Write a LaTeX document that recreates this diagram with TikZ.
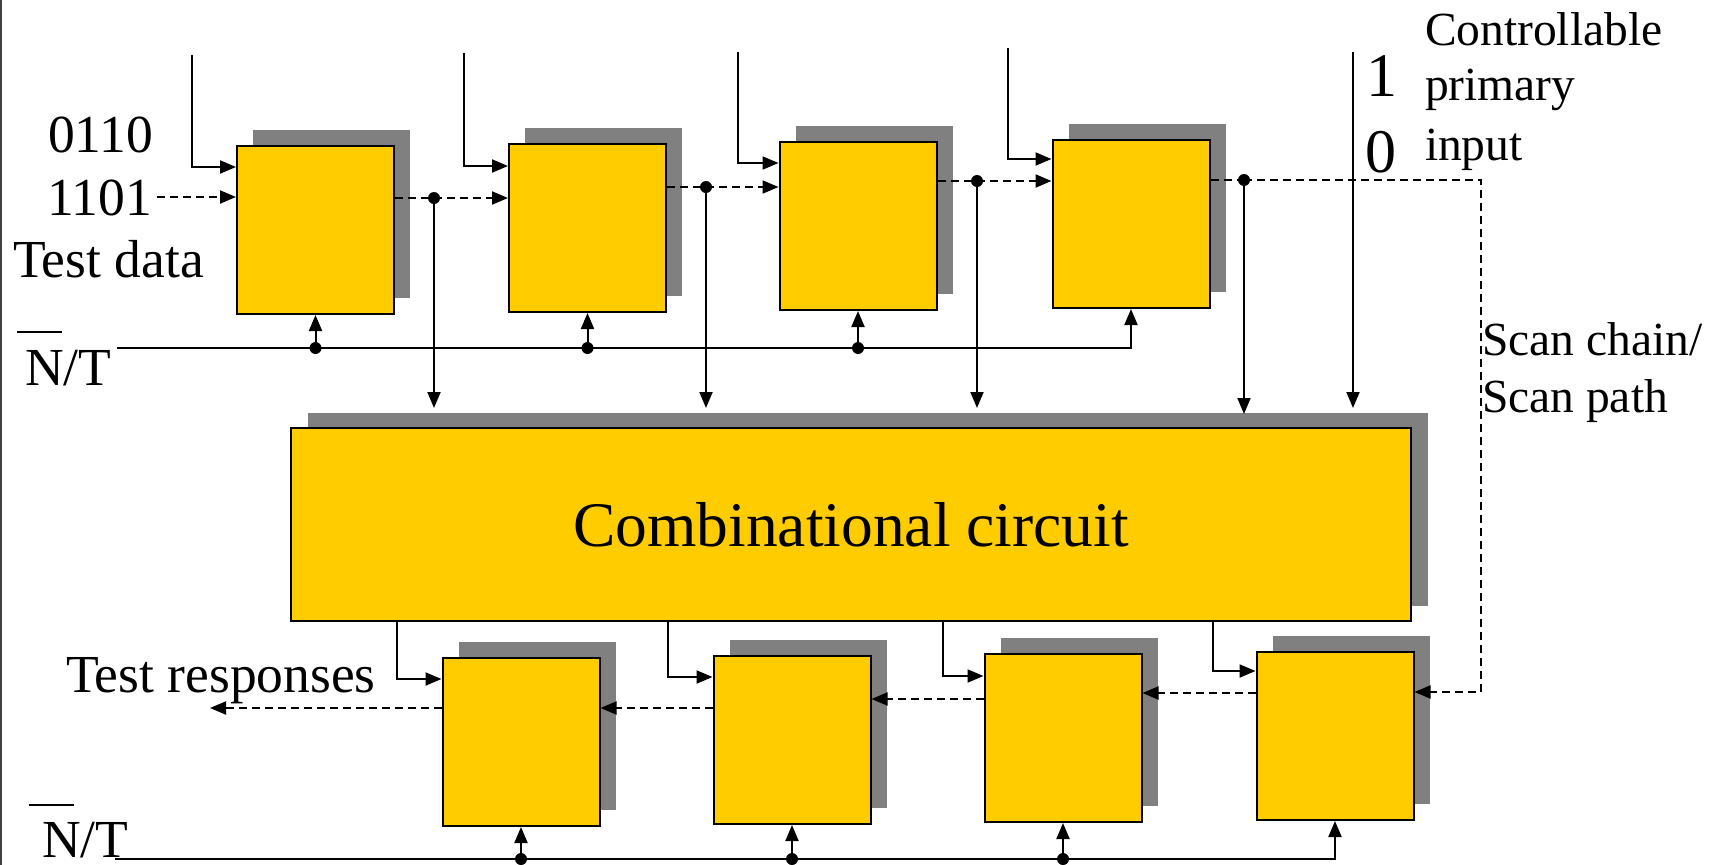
\documentclass[tikz,border=0pt]{standalone}
\usepackage{fontspec}
\setmainfont{Liberation Serif}
\usetikzlibrary{arrows.meta,shadows}
\definecolor{boxyellow}{HTML}{FFCC00}
\definecolor{shadowgray}{HTML}{808080}
\begin{document}
\begin{tikzpicture}[x=1pt,y=-1pt,line width=2pt,
  reg/.style={draw=black, fill=boxyellow, line width=2pt, minimum width=157pt, minimum height=168pt, inner sep=0pt,
    general shadow={fill=shadowgray, shadow xshift=16pt, shadow yshift=16pt}},
  circbox/.style={draw=black, fill=boxyellow, line width=2pt, minimum width=1120pt, minimum height=193pt, inner sep=0pt,
    general shadow={fill=shadowgray, shadow xshift=17pt, shadow yshift=15pt},
    font=\fontsize{63.5}{70}\selectfont},
  tx/.style={inner sep=0pt, anchor=base west, font=\fontsize{53.5}{60}\selectfont},
  rtx/.style={inner sep=0pt, anchor=base west, font=\fontsize{47.5}{54}\selectfont},
  bigtx/.style={inner sep=0pt, anchor=base west, font=\fontsize{62}{70}\selectfont},
  arr/.style={-{Triangle[length=16pt,width=13pt]}},
  dsh/.style={dash pattern=on 8pt off 5pt},
  dot/.style={fill=black}]
\useasboundingbox (0,0) rectangle (1717,865);
% frame edge
\draw[black!75] (1,0) -- (1,865);
% registers
\node[reg] (T1) at (315.5,230) {};
\node[reg] (T2) at (587.5,228) {};
\node[reg] (T3) at (858,226) {};
\node[reg] (T4) at (1131,224) {};
\node[circbox] (C) at (851,524.5) {Combinational circuit};
\node[reg] (B1) at (521,742) {};
\node[reg] (B2) at (792,740) {};
\node[reg] (B3) at (1063,738) {};
\node[reg] (B4) at (1335,736) {};
% texts
\node[tx] (t0110) at (47,152) {0110};
\node[tx] (t1101) at (46,215) {1101};
\node[tx] (tdata) at (12,277) {Test data};
\node[tx] (ntA) at (24,385) {N/T};
\node[tx] (tresp) at (65,692) {Test responses};
\node[tx] (ntB) at (41,857) {N/T};
\node[rtx] (cp1) at (1424,45) {Controllable};
\node[rtx] (cp2) at (1424,100) {primary};
\node[rtx] (cp3) at (1424,160) {input};
\node[bigtx] (one) at (1365,96) {1};
\node[bigtx] (zero) at (1364,172) {0};
\node[rtx] (sc1t) at (1481,355) {Scan chain/};
\node[rtx] (sc2t) at (1481,412) {Scan path};
\draw ([shift={(-7,-53)}]ntA.base west) -- ++(45,0);
\draw ([shift={(-12,-52)}]ntB.base west) -- ++(45,0);
% coordinates
\coordinate (p1) at (192,55);
\coordinate (p2) at (464,53);
\coordinate (p3) at (738,52);
\coordinate (p4) at (1008,48);
\coordinate (pin) at (1353,52);
\coordinate (td) at (157,197);
\coordinate (d1) at (434,198);
\coordinate (d2) at (706,187);
\coordinate (d3) at (977,181);
\coordinate (d4) at (1244,180);
\coordinate (ctop) at (851,408);
\coordinate (ctop4) at (851,414);
\coordinate (sa) at (1481,180);
\coordinate (sb) at (1481,692);
\coordinate (r3) at (1200,693);
\coordinate (r2) at (1000,699);
\coordinate (r1) at (700,708);
\coordinate (tout) at (210,708);
\coordinate (o1) at (397,621);
\coordinate (o2) at (668,621);
\coordinate (o3) at (943,621);
\coordinate (o4) at (1213,621);
\coordinate (nta) at (117,348);
\coordinate (ntb) at (115,859);
% top inputs
\draw[arr] (p1) |- ([yshift=-22pt]T1.north west);
\draw[arr] (p2) |- ([yshift=-23pt]T2.north west);
\draw[arr] (p3) |- ([yshift=-22pt]T3.north west);
\draw[arr] (p4) |- ([yshift=-20pt]T4.north west);
\draw[arr] (pin) -- (pin |- ctop);
% scan chain top
\draw[arr,dsh] (td) -- (td -| T1.west);
\draw[dsh] (d1 -| T1.east) -- (d1);
\draw[arr,dsh] (d1) -- (d1 -| T2.west);
\draw[dsh] (d2 -| T2.east) -- (d2);
\draw[arr,dsh] (d2) -- (d2 -| T3.west);
\draw[dsh] (d3 -| T3.east) -- (d3);
\draw[arr,dsh] (d3) -- (d3 -| T4.west);
\draw[dsh] (d4 -| T4.east) -- (d4);
\draw[arr,dsh] (d4) -- (sa) -- (sb) -- (sb -| B4.east);
% verticals to circuit
\draw[arr] (d1) -- (d1 |- ctop);
\draw[arr] (d2) -- (d2 |- ctop);
\draw[arr] (d3) -- (d3 |- ctop);
\draw[arr] (d4) -- (d4 |- ctop4);
\foreach \d in {d1,d2,d3,d4} \fill[dot] (\d) circle[radius=6];
% circuit outputs
\draw[arr] (o1) |- ([yshift=-22pt]B1.north west);
\draw[arr] (o2) |- ([yshift=-22pt]B2.north west);
\draw[arr] (o3) |- ([yshift=-23pt]B3.north west);
\draw[arr] (o4) |- ([yshift=-20pt]B4.north west);
% bottom scan chain
\draw[arr,dsh] (r3 -| B4.west) -- (r3 -| B3.east);
\draw[arr,dsh] (r2 -| B3.west) -- (r2 -| B2.east);
\draw[arr,dsh] (r1 -| B2.west) -- (r1 -| B1.east);
\draw[arr,dsh] (tout -| B1.west) -- (tout);
% N/T top
\draw[arr] (nta) -| (T4.south);
\foreach \b in {T1,T2,T3} {
  \draw[arr] (\b.south |- nta) -- (\b.south);
  \fill[dot] (\b.south |- nta) circle[radius=6];
}
% N/T bottom
\draw[arr] (ntb) -| (B4.south);
\foreach \b in {B1,B2,B3} {
  \draw[arr] (\b.south |- ntb) -- (\b.south);
  \fill[dot] (\b.south |- ntb) circle[radius=6];
}
\end{tikzpicture}
\end{document}
